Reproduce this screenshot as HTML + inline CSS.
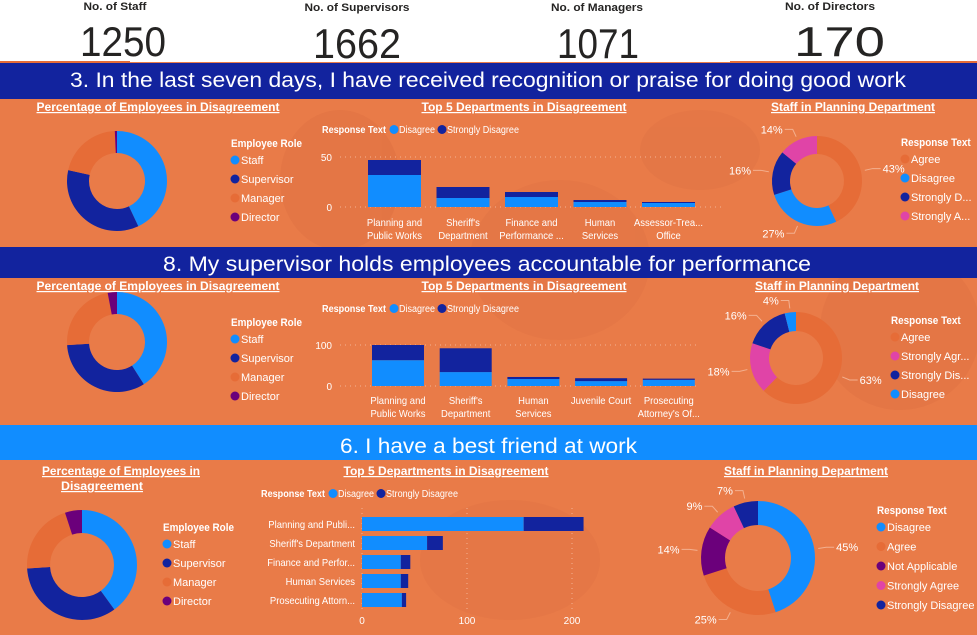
<!DOCTYPE html>
<html><head><meta charset="utf-8">
<style>
html,body{margin:0;padding:0;background:#e97b48;}
svg{display:block;}
text{font-family:"Liberation Sans Narrow","Liberation Sans",sans-serif;}
</style></head>
<body>
<svg id="dash" width="977" height="635" viewBox="0 0 977 635" xmlns="http://www.w3.org/2000/svg">
  <rect x="0" y="0" width="977" height="635" fill="#e97b48"/>
  <g opacity="0.22">
    <ellipse cx="340" cy="180" rx="60" ry="70" fill="#d0623a"/>
    <ellipse cx="560" cy="260" rx="90" ry="80" fill="#d56b40"/>
    <ellipse cx="900" cy="330" rx="80" ry="80" fill="#d0623a"/>
    <ellipse cx="510" cy="560" rx="90" ry="60" fill="#d56b40"/>
    <ellipse cx="700" cy="150" rx="60" ry="40" fill="#d56b40"/>
  </g>
  <rect x="0" y="0" width="977" height="62" fill="#ffffff"/>
  <rect x="0" y="61" width="130" height="2" fill="#e66c37"/>
  <rect x="730" y="61" width="247" height="2" fill="#e66c37"/>
  <g font-weight="bold" font-size="11" fill="#252423" text-anchor="middle">
    <text x="115" y="10" textLength="63" lengthAdjust="spacingAndGlyphs">No. of Staff</text>
    <text x="357" y="11" textLength="105" lengthAdjust="spacingAndGlyphs">No. of Supervisors</text>
    <text x="597" y="11" textLength="92" lengthAdjust="spacingAndGlyphs">No. of Managers</text>
    <text x="830" y="10" textLength="90" lengthAdjust="spacingAndGlyphs">No. of Directors</text>
  </g>
  <g font-size="42" fill="#252423">
    <text x="80" y="56" textLength="86" lengthAdjust="spacingAndGlyphs">1250</text>
    <text x="313" y="58" textLength="88" lengthAdjust="spacingAndGlyphs">1662</text>
    <text x="557" y="58" textLength="82" lengthAdjust="spacingAndGlyphs">1071</text>
    <text x="794" y="56" textLength="91" lengthAdjust="spacingAndGlyphs">170</text>
  </g>
  <rect x="0" y="63" width="977" height="36" fill="#12239e"/>
  <text x="70" y="87" font-size="21" fill="#fff" textLength="836" lengthAdjust="spacingAndGlyphs">3. In the last seven days, I have received recognition or praise for doing good work</text>
  <rect x="0" y="247" width="977" height="31" fill="#12239e"/>
  <text x="163" y="271" font-size="21" fill="#fff" textLength="648" lengthAdjust="spacingAndGlyphs">8. My supervisor holds employees accountable for performance</text>
  <rect x="0" y="425" width="977" height="35" fill="#118dff"/>
  <text x="340" y="453" font-size="21" fill="#fff" textLength="297" lengthAdjust="spacingAndGlyphs">6. I have a best friend at work</text>
  <g id="charts"></g>
</svg>
<script>
// ---- Data ----
const roles = ['Staff','Supervisor','Manager','Director'];
const q3RoleVals = [43, 35.5, 20.8, 0.7];
const q8RoleVals = [41, 33, 23, 3];
const q6RoleVals = [40, 34, 21, 5];

const q3Depts = ['Planning and|Public Works',"Sheriff's|Department",'Finance and|Performance ...','Human|Services','Assessor-Trea...|Office'];
const q3Disagree = [32, 9, 10, 5, 4];
const q3Strong = [15, 11, 5, 2, 1];
const q3Ticks = [0, 50];

const q8Depts = ['Planning and|Public Works',"Sheriff's|Department",'Human|Services','Juvenile Court',"Prosecuting|Attorney's Of..."];
const q8Disagree = [63, 34, 17, 12, 15];
const q8Strong = [37, 58, 5, 7, 3];
const q8Ticks = [0, 100];

const q6Depts = ['Planning and Publi...',"Sheriff's Department",'Finance and Perfor...','Human Services','Prosecuting Attorn...'];
const q6Disagree = [154, 62, 37, 37, 38];
const q6Strong = [57, 15, 9, 7, 4];
const q6Ticks = [0, 100, 200];

const q3PlanCats = ['Agree','Disagree','Strongly D...','Strongly A...'];
const q3PlanVals = [43, 27, 16, 14];
const q8PlanCats = ['Agree','Strongly Agr...','Strongly Dis...','Disagree'];
const q8PlanVals = [63, 18, 16, 4];
const q6PlanCats = ['Disagree','Agree','Not Applicable','Strongly Agree','Strongly Disagree'];
const q6PlanVals = [45, 25, 14, 9, 7];

const C = {Staff:'#118dff',Supervisor:'#12239e',Manager:'#e66c37',Director:'#6b007b'};
const respColor = {'Agree':'#e66c37','Disagree':'#118dff','Strongly D...':'#12239e','Strongly A...':'#e044a7',
  'Strongly Agr...':'#e044a7','Strongly Dis...':'#12239e','Not Applicable':'#6b007b','Strongly Agree':'#e044a7','Strongly Disagree':'#12239e'};

const NS='http://www.w3.org/2000/svg';
const root=document.getElementById('charts');
function mk(tag, attrs, parent){
  const e=document.createElementNS(NS,tag);
  for(const k in attrs) e.setAttribute(k,attrs[k]);
  (parent||root).appendChild(e);
  return e;
}
function txt(x,y,s,opt,parent){
  const t=mk('text',Object.assign({x:x,y:y,fill:'#fff','font-size':10},opt||{}),parent);
  t.textContent=s;
  return t;
}
function squeeze(t,f){
  const w=t.getComputedTextLength();
  t.setAttribute('textLength',w*f);
  t.setAttribute('lengthAdjust','spacingAndGlyphs');
}
function title(x,y,s,w,parent){
  const t=txt(x,y,s,{'font-size':12,'font-weight':'bold','text-anchor':'middle','text-decoration':'underline'},parent);
  if(w){t.setAttribute('textLength',w);t.setAttribute('lengthAdjust','spacingAndGlyphs');}
  
  
  return t;
}
function arcPath(cx,cy,r0,r1,a0,a1){
  const p=(r,a)=>[cx+r*Math.sin(a),cy-r*Math.cos(a)];
  const large=(a1-a0)>Math.PI?1:0;
  const [x1,y1]=p(r1,a0),[x2,y2]=p(r1,a1),[x3,y3]=p(r0,a1),[x4,y4]=p(r0,a0);
  return `M${x1},${y1}A${r1},${r1} 0 ${large} 1 ${x2},${y2}L${x3},${y3}A${r0},${r0} 0 ${large} 0 ${x4},${y4}Z`;
}
function donut(cx,cy,r1,r0,cats,vals,colorOf,labels,name){
  const g=mk('g',{});
  
  
  const tot=vals.reduce((a,b)=>a+b,0);
  let a=0;
  vals.forEach((v,i)=>{
    const a1=a+v/tot*2*Math.PI;
    const p=mk('path',{d:arcPath(cx,cy,r0,r1,a,a1),fill:colorOf(cats[i])},g);
    
    
    if(labels){
      const m=(a+a1)/2, sx=Math.sin(m), sy=-Math.cos(m);
      const lx=cx+(r1+4)*sx, ly=cy+(r1+4)*sy;
      const ex=cx+(r1+12)*sx, ey=cy+(r1+12)*sy;
      const hx=ex+(sx>=0?8:-8);
      mk('polyline',{points:`${lx},${ly} ${ex},${ey} ${hx},${ey}`,fill:'none',stroke:'#f3b08f','stroke-width':1},g);
      const t=txt(hx+(sx>=0?2:-2),ey+4,Math.round(v)+'%',{'text-anchor':sx>=0?'start':'end','font-size':11},g);
      
      
    }
    a=a1;
  });
  return g;
}
function legend(x,y,head,cats,colorOf,step,name){
  const g=mk('g',{});
  
  
  const h=txt(x,y,head,{'font-weight':'bold','font-size':11},g);
  squeeze(h,0.9);
  
  
  cats.forEach((c,i)=>{
    const yy=y+17+i*step;
    const e=mk('g',{},g);
    
    
    mk('circle',{cx:x+4,cy:yy-4,r:4.5,fill:colorOf(c)},e);
    txt(x+10,yy,c,{'font-size':11},e);
  });
}
function topLegend(x,y,name){
  const g=mk('g',{});
  
  
  txt(x,y,'Response Text',{'font-weight':'bold','font-size':10,textLength:64,lengthAdjust:'spacingAndGlyphs'},g);
  const e1=mk('g',{},g);
  
  
  mk('circle',{cx:x+72,cy:y-3.5,r:4.5,fill:'#118dff'},e1);
  txt(x+77,y,'Disagree',{'font-size':10,textLength:36,lengthAdjust:'spacingAndGlyphs'},e1);
  const e2=mk('g',{},g);
  
  
  mk('circle',{cx:x+120,cy:y-3.5,r:4.5,fill:'#12239e'},e2);
  txt(x+125,y,'Strongly Disagree',{'font-size':10,textLength:72,lengthAdjust:'spacingAndGlyphs'},e2);
}
function vbar(cfg){
  const {x0,x1,y0,pxPer,bx,bw,gap,depts,dis,str,ticks,labY,name}=cfg;
  const g=mk('g',{});
  
  
  const Y=v=>y0-v*pxPer;
  ticks.forEach(t=>{
    mk('line',{x1:x0,x2:x1,y1:Y(t),y2:Y(t),stroke:'#f4b394','stroke-dasharray':'1,4'},g);
    const tl=txt(x0-8,Y(t)+4,String(t),{'text-anchor':'end','font-size':10},g);
    
    
  });
  depts.forEach((d,i)=>{
    const x=bx+i*(bw+gap);
    const b1=mk('rect',{x:x,y:Y(dis[i]),width:bw,height:dis[i]*pxPer,fill:'#118dff'},g);
    
    
    const b2=mk('rect',{x:x,y:Y(dis[i]+str[i]),width:bw,height:str[i]*pxPer,fill:'#12239e'},g);
    
    
    d.split('|').forEach((ln,j)=>{
      const t=txt(x+bw/2,labY+j*13,ln,{'text-anchor':'middle','font-size':10.5},g);
      squeeze(t,0.9);
      
      
    });
  });
}
function hbar(cfg){
  const {x0,pxPer,yTop,yBot,y0,bh,step,depts,dis,str,ticks,name}=cfg;
  const g=mk('g',{});
  
  
  const X=v=>x0+v*pxPer;
  ticks.forEach(t=>{
    mk('line',{x1:X(t),x2:X(t),y1:yTop,y2:yBot,stroke:'#f4b394','stroke-dasharray':'1,4'},g);
    const tl=txt(X(t),yBot+12,String(t),{'text-anchor':'middle','font-size':10},g);
    
    
  });
  depts.forEach((d,i)=>{
    const yc=y0+i*step;
    const b1=mk('rect',{x:X(0),y:yc-bh/2,width:dis[i]*pxPer,height:bh,fill:'#118dff'},g);
    
    
    const b2=mk('rect',{x:X(dis[i]),y:yc-bh/2,width:str[i]*pxPer,height:bh,fill:'#12239e'},g);
    
    
    const t=txt(x0-7,yc+4,d,{'text-anchor':'end','font-size':10.5},g);
    squeeze(t,0.9);
    
    
  });
}
const roleColor=c=>C[c];
const rc=c=>respColor[c];

// Section 1 (Q3)
title(158,111,'Percentage of Employees in Disagreement',243);
donut(117,181,50,28,roles,q3RoleVals,roleColor,false,'q3-role-donut');
legend(231,147,'Employee Role',roles,roleColor,19,'q3-role-legend');
title(524,111,'Top 5 Departments in Disagreement',205);
topLegend(322,133,'q3-bar-legend');
vbar({x0:340,x1:722,y0:207,pxPer:1.0,bx:368,bw:53,gap:15.5,depts:q3Depts,dis:q3Disagree,str:q3Strong,ticks:q3Ticks,labY:226,name:'q3-department-bar-chart'});
title(853,111,'Staff in Planning Department',164);
donut(817,181,45,27,q3PlanCats,q3PlanVals,rc,true,'q3-planning-donut');
legend(901,146,'Response Text',q3PlanCats,rc,19,'q3-planning-legend');

// Section 2 (Q8)
title(158,290,'Percentage of Employees in Disagreement',243);
donut(117,342,50,28,roles,q8RoleVals,roleColor,false,'q8-role-donut');
legend(231,326,'Employee Role',roles,roleColor,19,'q8-role-legend');
title(524,290,'Top 5 Departments in Disagreement',205);
topLegend(322,312,'q8-bar-legend');
vbar({x0:340,x1:700,y0:386,pxPer:0.41,bx:372,bw:52,gap:15.7,depts:q8Depts,dis:q8Disagree,str:q8Strong,ticks:q8Ticks,labY:404,name:'q8-department-bar-chart'});
title(837,290,'Staff in Planning Department',164);
donut(796,358,46,27,q8PlanCats,q8PlanVals,rc,true,'q8-planning-donut');
legend(891,324,'Response Text',q8PlanCats,rc,19,'q8-planning-legend');

// Section 3 (Q6)
title(121,475,'Percentage of Employees in',158);
title(102,490,'Disagreement',82);
donut(82,565,55,32,roles,q6RoleVals,roleColor,false,'q6-role-donut');
legend(163,531,'Employee Role',roles,roleColor,19,'q6-role-legend');
title(446,475,'Top 5 Departments in Disagreement',205);
topLegend(261,497,'q6-bar-legend');
hbar({x0:362,pxPer:1.05,yTop:508,yBot:612,y0:524,bh:14,step:19,depts:q6Depts,dis:q6Disagree,str:q6Strong,ticks:q6Ticks,name:'q6-department-bar-chart'});
title(806,475,'Staff in Planning Department',164);
donut(758,558,57,33,q6PlanCats,q6PlanVals,rc,true,'q6-planning-donut');
legend(877,514,'Response Text',q6PlanCats,rc,19.5,'q6-planning-legend');
</script>
</body></html>
